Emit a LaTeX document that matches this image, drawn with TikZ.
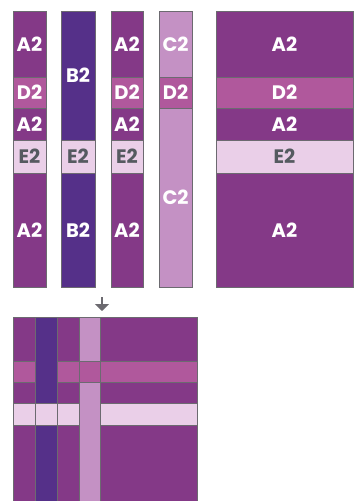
\documentclass[tikz,border=0pt]{standalone}
\usepackage{fontspec}
\setmainfont{Poppins}
\usetikzlibrary{arrows.meta}
\definecolor{cA}{HTML}{843987}
\definecolor{cB}{HTML}{553089}
\definecolor{cC}{HTML}{C491C4}
\definecolor{cD}{HTML}{B0589C}
\definecolor{cE}{HTML}{EACFE8}
\definecolor{edge}{HTML}{6C6A70}
\definecolor{etext}{HTML}{555A60}
\tikzset{
  seg/.style={draw=edge, line width=0.9pt},
  lab/.style={font=\bfseries\fontsize{19.5}{20}\selectfont, text=white, inner sep=0pt},
  elab/.style={lab, text=etext},
}
% \seg{name}{x1}{y1}{x2}{y2}{fill}{label style}{text}
\newcommand{\seg}[8]{%
  \draw[seg, fill=#6] (#2,#3) rectangle (#4,#5);
  \node[#7] (#1) at ({(#2+#4)/2},{(#3+#5)/2}) {#8};}
\newcommand{\Astrip}[3]{% name x1 x2
  \seg{#1a}{#2}{11}{#3}{77}{cA}{lab}{A2}
  \seg{#1d}{#2}{77}{#3}{108}{cD}{lab}{D2}
  \seg{#1b}{#2}{108}{#3}{140}{cA}{lab}{A2}
  \seg{#1e}{#2}{140}{#3}{173}{cE}{elab}{E2}
  \seg{#1c}{#2}{173}{#3}{287}{cA}{lab}{A2}}
\newcommand{\Bstrip}[3]{%
  \seg{#1a}{#2}{11}{#3}{140}{cB}{lab}{B2}
  \seg{#1e}{#2}{140}{#3}{173}{cE}{elab}{E2}
  \seg{#1c}{#2}{173}{#3}{287}{cB}{lab}{B2}}
\newcommand{\Cstrip}[3]{%
  \seg{#1a}{#2}{11}{#3}{77}{cC}{lab}{C2}
  \seg{#1d}{#2}{77}{#3}{108}{cD}{lab}{D2}
  \seg{#1c}{#2}{108}{#3}{287}{cC}{lab}{C2}}
% bottom mosaic column: name x1 x2 fills for 5 rows
\newcommand{\mcol}[7]{%
  \seg{#1r1}{#2}{317}{#3}{361}{#4}{lab}{}
  \seg{#1r2}{#2}{361}{#3}{382}{#5}{lab}{}
  \seg{#1r3}{#2}{382}{#3}{403}{#4}{lab}{}
  \seg{#1r4}{#2}{403}{#3}{425}{#6}{lab}{}
  \seg{#1r5}{#2}{425}{#3}{#7}{#4}{lab}{}}
\begin{document}
\begin{tikzpicture}[x=1pt,y=-1pt]
\useasboundingbox[fill=white] (0,0) rectangle (356,501);
\Astrip{s1}{13}{46}
\Bstrip{s2}{61}{95}
\Astrip{s3}{111}{143}
\Cstrip{s4}{159}{192}
\Astrip{s5}{216}{353}
% bottom mosaic
\mcol{m1}{13}{35}{cA}{cD}{cE}{502}
\draw[seg, fill=cB] (35,317) rectangle (57,403);
\draw[seg, fill=cE] (35,403) rectangle (57,425);
\draw[seg, fill=cB] (35,425) rectangle (57,502);
\mcol{m3}{57}{79}{cA}{cD}{cE}{502}
\draw[seg, fill=cC] (79,317) rectangle (100,361);
\draw[seg, fill=cD] (79,361) rectangle (100,382);
\draw[seg, fill=cC] (79,382) rectangle (100,502);
\mcol{m5}{100}{197}{cA}{cD}{cE}{502}
% arrow
\coordinate (ar1) at (102,297);
\coordinate (ar2) at (102,311);
\draw[edge, line width=1.6pt, -{Triangle[length=7pt,width=14pt]}] (ar1) -- (ar2);
\end{tikzpicture}
\end{document}
